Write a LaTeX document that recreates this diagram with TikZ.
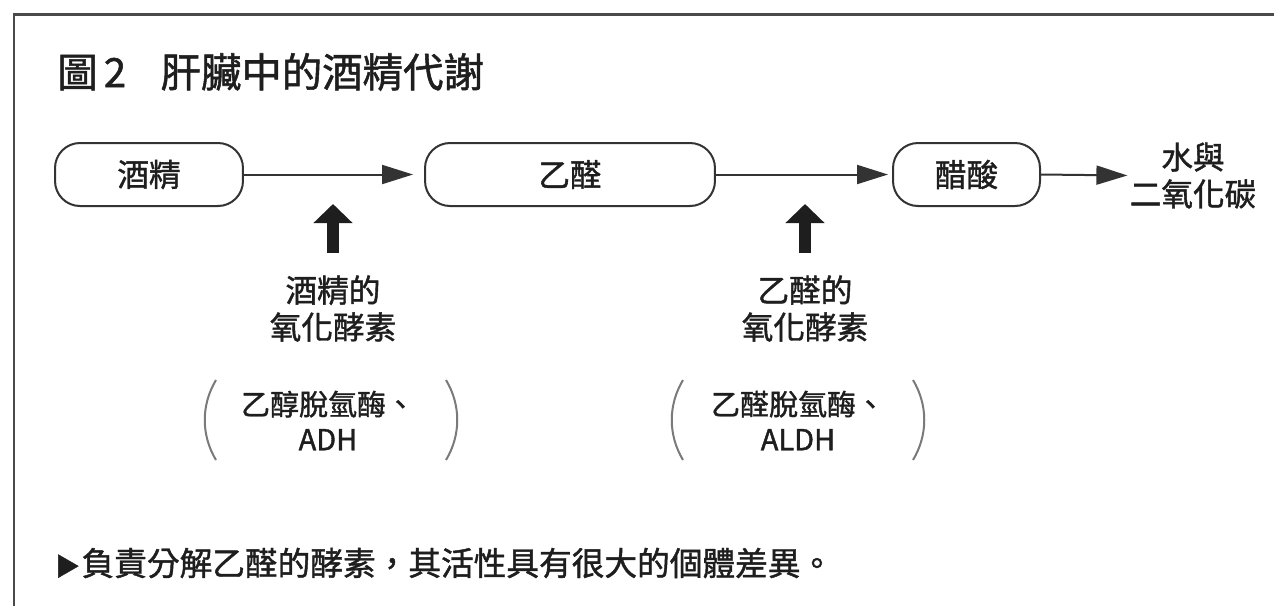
\documentclass[tikz,border=0pt]{standalone}
\usepackage{fontspec}
\setmainfont{Noto Sans CJK TC}[FakeBold=1.3]
\usetikzlibrary{arrows.meta}

\definecolor{framegray}{HTML}{4A4A4A}
\definecolor{linegray}{HTML}{333333}
\definecolor{textblack}{HTML}{1E1E1E}
\definecolor{parengray}{HTML}{7A7A7A}

\tikzset{
  stagebox/.style={draw=linegray, line width=0.04cm, rounded corners=0.5cm,
    minimum height=1.26cm, inner sep=0pt, text=textblack,
    font=\fontsize{18pt}{21pt}\selectfont},
  flow/.style={draw=linegray, line width=0.04cm, -{Triangle[length=0.62cm,width=0.38cm]}},
  enzarrow/.style={draw=textblack, line width=0.24cm, -{Triangle[length=0.38cm,width=0.76cm]}},
  enzlabel/.style={inner sep=0pt, align=center, text=textblack,
    font=\fontsize{18pt}{21pt}\selectfont},
  enzname/.style={inner sep=0pt, align=center, text=textblack,
    font=\fontsize{16.5pt}{20pt}\selectfont},
  paren/.style={draw=parengray, line width=0.04cm}
}

\begin{document}
\begin{tikzpicture}[x=0.02cm, y=-0.02cm]

\useasboundingbox (0,0) rectangle (1274,606);
\fill[white] (0,0) rectangle (1274,606);

% frame
\draw[framegray, line width=0.06cm] (1274,14) -- (14,14) -- (14,606);

% title
\node[anchor=west, inner sep=0pt, text=textblack, font=\fontsize{23pt}{26pt}\selectfont]
  (title) at (57,72) {圖\hspace{0.15em}2\hspace{0.85em}肝臟中的酒精代謝};

% stages
\node[stagebox, minimum width=3.76cm] (alcohol) at (149,174.5) {酒精};
\node[stagebox, minimum width=5.8cm] (acetal) at (570,174.5) {乙醛};
\node[stagebox, minimum width=2.94cm] (acetic) at (966.5,174.5) {醋酸};
\node[enzlabel] (product) at (1193,175.5) {水與\\二氧化碳};

\draw[flow, shorten >=0.22cm] (alcohol.east) -- (acetal.west);
\draw[flow, shorten >=0.08cm] (acetal.east) -- (acetic.west);
\draw[flow, shorten >=0.04cm] (acetic.east) -- (product.west);

% enzymes
\node[enzlabel] (adhlbl) at (333,308.5) {酒精的\\氧化酵素};
\node[enzlabel] (aldhlbl) at (805,308.5) {乙醛的\\氧化酵素};
\coordinate (adhtip) at (333,204);
\coordinate (aldhtip) at (805,204);
\draw[enzarrow, shorten <=0.44cm] (adhlbl.north) -- (adhtip);
\draw[enzarrow, shorten <=0.44cm] (aldhlbl.north) -- (aldhtip);

\node[enzname] (adh) at (328,420.5) {乙醇脫氫酶、\\ADH};
\node[enzname] (aldh) at (798,420.5) {乙醛脫氫酶、\\ALDH};

\draw[paren] (216,380) .. controls (201,405) and (201,435) .. (216,460);
\draw[paren] (446,380) .. controls (461,405) and (461,435) .. (446,460);
\draw[paren] (683,380) .. controls (668,405) and (668,435) .. (683,460);
\draw[paren] (913,380) .. controls (928,405) and (928,435) .. (913,460);

% note
\node[anchor=west, inner sep=0pt, text=textblack, font=\fontsize{18.6pt}{22pt}\selectfont]
  (note) at (55,563) {{\fontsize{14pt}{14pt}\selectfont ▶}\hspace{0.05em}負責分解乙醛的酵素，其活性具有很大的個體差異。};

\end{tikzpicture}
\end{document}
